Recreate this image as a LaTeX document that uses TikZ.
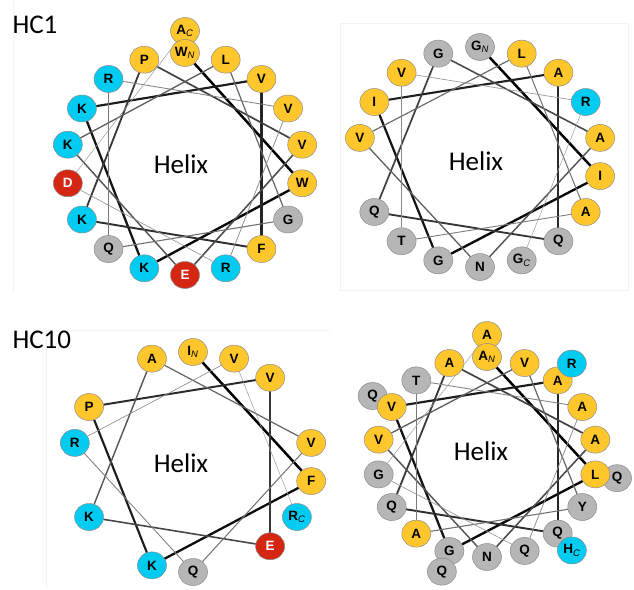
\documentclass[tikz,border=0pt]{standalone}
\usepackage{fontspec}
\setmainfont{Carlito}
\newfontfamily\resfont{Liberation Sans}
\usetikzlibrary{shapes.geometric}

\definecolor{hydc}{RGB}{255,199,44}
\definecolor{posc}{RGB}{0,204,242}
\definecolor{negc}{RGB}{212,38,18}
\definecolor{polc}{RGB}{182,182,182}
\definecolor{framec}{RGB}{243,243,243}

\pgfdeclarelayer{paper}
\pgfdeclarelayer{lines}
\pgfdeclarelayer{under}
\pgfsetlayers{paper,lines,under,main}

% residue letter with a terminal subscript (N or C)
\newcommand\resub[2]{#1\textsubscript{\mdseries\itshape #2}}

\tikzset{
  res/.style={ellipse, minimum width=29pt, minimum height=27pt, inner sep=0pt,
    draw=black!45, line width=0.5pt,
    font=\resfont\bfseries\fontsize{13.5}{13.5}\selectfont},
  rhyd/.style={fill=hydc},
  rpos/.style={fill=posc},
  rneg/.style={fill=negc, text=white},
  rpol/.style={fill=polc},
  link/.style={line cap=round},
  helixlbl/.style={anchor=base, font=\fontsize{27}{27}\selectfont},
  panellbl/.style={anchor=base west, font=\fontsize{27}{27}\selectfont},
  panelframe/.style={draw=framec, line width=0.8pt},
}

% #1 prefix, #2 cx, #3 cy, #4 rx, #5 ry, #6 number of residues, #7 residues
% residues past the 18th sit on an outer ring; the chain is linked up to the 19th
\newcommand\helixwheel[7]{%
  \foreach [count=\i] \lab/\col/\lay in {#7} {
    \pgfmathsetmacro\ang{90-100*(\i-1)}
    \ifnum\i>18 \def\dr{22}\else\def\dr{0}\fi
    \begin{pgfonlayer}{\lay}
      \node[res,\col] (#1-\i) at ({#2+(#4+\dr)*cos(\ang)},{#3-(#5+\dr)*sin(\ang)}) {\lab};
    \end{pgfonlayer}
  }
  \pgfmathtruncatemacro\nl{min(#6,19)}
  \begin{pgfonlayer}{lines}
    \foreach \k in {2,...,\nl} {
      \pgfmathtruncatemacro\j{\k-1}
      \pgfmathsetmacro\fr{(\k-2)/(\nl-2)}
      \pgfmathsetmacro\lw{2.5-2.0*\fr}
      \pgfmathsetmacro\sh{100-62*\fr}
      \draw[link, line width=\lw pt, draw=black!\sh] (#1-\j) -- (#1-\k);
    }
  \end{pgfonlayer}
}

\begin{document}
\begin{tikzpicture}[x=1pt, y=-1pt]
  \useasboundingbox (0,0) rectangle (634,589);
  \begin{pgfonlayer}{paper}
    \fill[white] (0,0) rectangle (634,589);
    % faint panel frames
    \draw[panelframe] (13,0) -- (13,293);
    \draw[panelframe] (340,23) rectangle (628,290);
    \draw[panelframe] (46,330) -- (46,589);
    \draw[panelframe] (46,330) -- (330,330);
  \end{pgfonlayer}

  \node[panellbl] (lbl1) at (9,33) {HC1};
  \node[panellbl] (lbl10) at (9,348) {HC10};

  % HC1, first helix
  \helixwheel{a}{185}{164}{119}{111}{19}{
    \resub{W}{N}/rhyd/main, W/rhyd/main, K/rpos/main, K/rpos/main, V/rhyd/main,
    F/rhyd/main, K/rpos/main, P/rhyd/main, V/rhyd/main, E/rneg/main,
    K/rpos/main, L/rhyd/main, G/rpol/main, Q/rpol/main, R/rpos/main,
    V/rhyd/main, R/rpos/main, D/rneg/main, \resub{A}{C}/rhyd/under}
  \node[helixlbl] (ha) at (181,173) {Helix};

  % HC1, second helix
  \helixwheel{b}{480}{157}{122}{110}{17}{
    \resub{G}{N}/rpol/main, I/rhyd/main, G/rpol/main, I/rhyd/main, A/rhyd/main,
    Q/rpol/main, Q/rpol/main, G/rpol/main, A/rhyd/main, N/rpol/main,
    V/rhyd/main, L/rhyd/main, A/rhyd/main, T/rpol/main, V/rhyd/main,
    R/rpos/main, \resub{G}{C}/rpol/main}
  \node[helixlbl] (hb) at (476,170) {Helix};

  % HC10, first helix
  \helixwheel{c}{193}{462}{120}{110}{13}{
    \resub{I}{N}/rhyd/main, F/rhyd/main, K/rpos/main, P/rhyd/main, V/rhyd/main,
    E/rneg/main, K/rpos/main, A/rhyd/main, V/rhyd/main, Q/rpol/main,
    R/rpos/main, V/rhyd/main, \resub{R}{C}/rpos/main}
  \node[helixlbl] (hc) at (181,472) {Helix};

  % HC10, second helix
  \helixwheel{d}{487}{457}{110}{100}{24}{
    \resub{A}{N}/rhyd/main, L/rhyd/main, G/rpol/main, V/rhyd/main, A/rhyd/main,
    Q/rpol/main, Q/rpol/main, A/rhyd/main, A/rhyd/main, N/rpol/main,
    V/rhyd/main, V/rhyd/main, Y/rpol/main, A/rhyd/main, T/rpol/main,
    A/rhyd/main, Q/rpol/main, G/rpol/main, A/rhyd/under, Q/rpol/under,
    Q/rpol/main, Q/rpol/under, R/rpos/main, \resub{H}{C}/rpos/main}
  \node[helixlbl] (hd) at (481,460) {Helix};
\end{tikzpicture}
\end{document}
